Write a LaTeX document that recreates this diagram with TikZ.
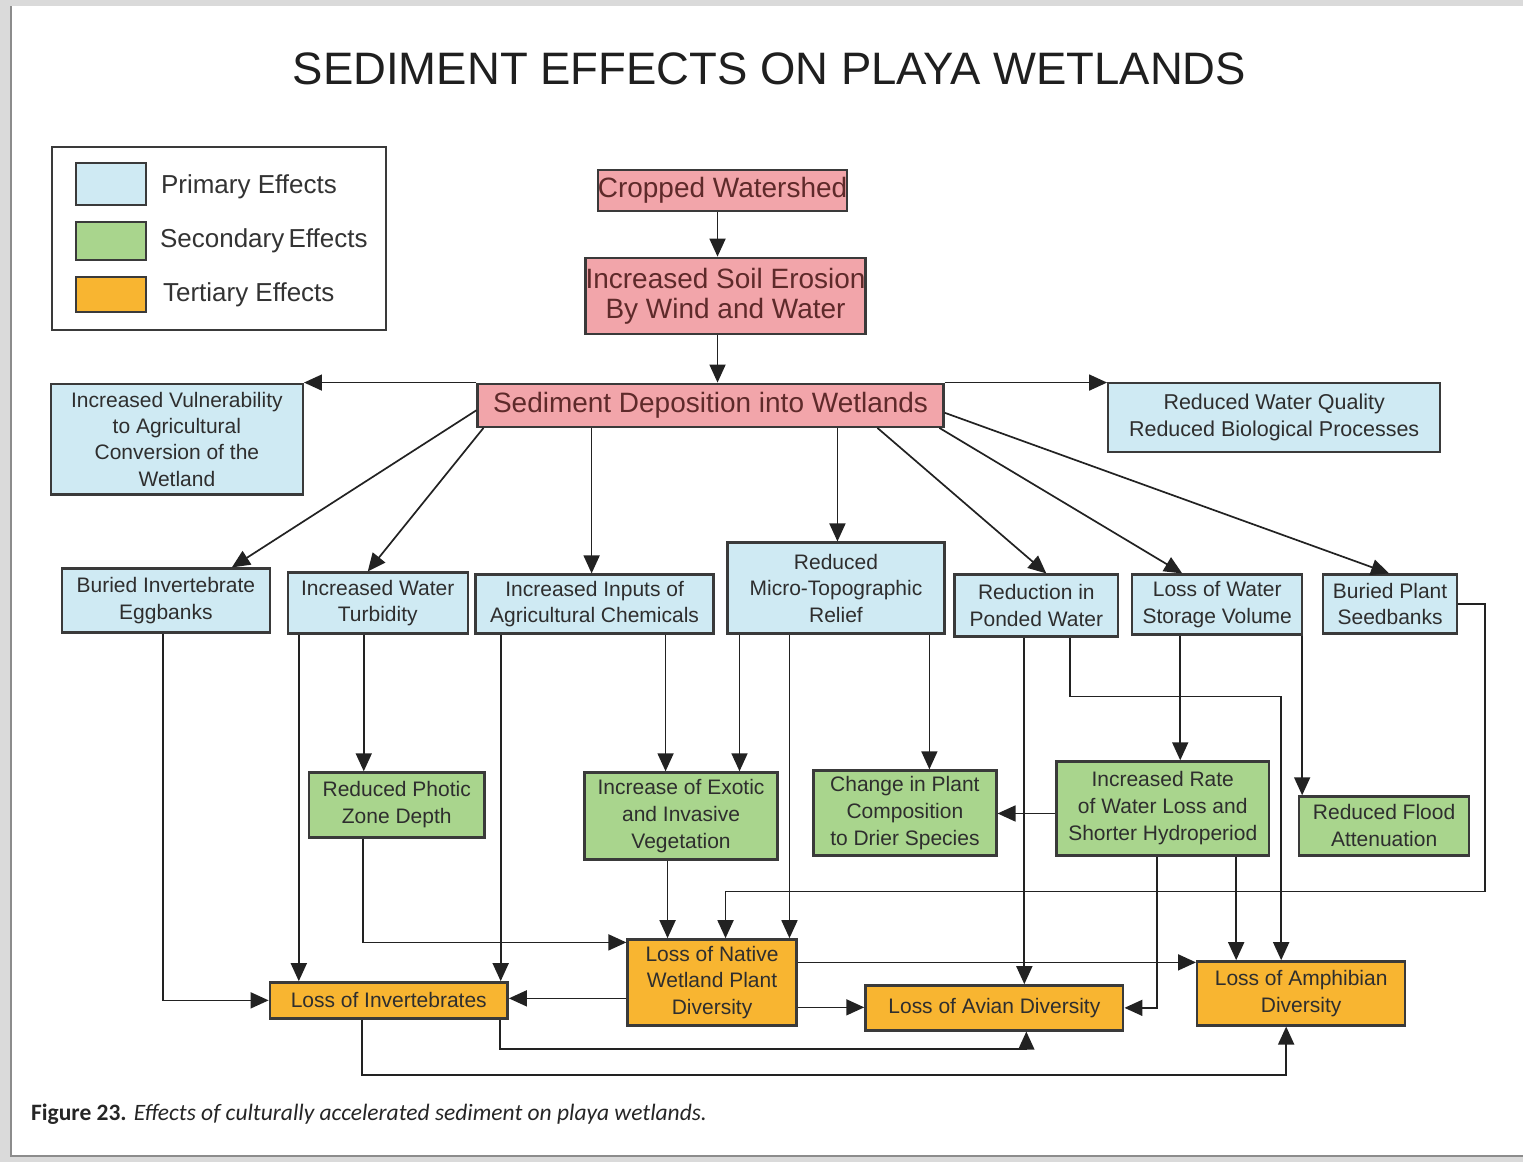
\documentclass[tikz,border=0pt]{standalone}
\usepackage{fontspec}
\setmainfont{Liberation Sans}
\newfontfamily\capfont{Carlito}
\usetikzlibrary{arrows.meta}
\definecolor{pinkfill}{HTML}{F2A5AA}
\definecolor{bluefill}{HTML}{CFEAF3}
\definecolor{greenfill}{HTML}{A9D58D}
\definecolor{orangefill}{HTML}{F8B531}
\definecolor{boxline}{HTML}{3A3A3A}
\definecolor{pinktext}{HTML}{5E2A2A}
\definecolor{linecol}{HTML}{222222}
\definecolor{bgcol}{HTML}{DADADA}
\begin{document}
\begin{tikzpicture}[x=1pt,y=-1pt,
  box/.style={draw=boxline, line width=2.4pt, inner sep=0pt, align=center, text=black!82},
  pbox/.style={box, fill=pinkfill, text=pinktext, font=\fontsize{28}{30}\selectfont},
  bbox/.style={box, fill=bluefill, font=\fontsize{21}{26.5}\selectfont},
  gbox/.style={box, fill=greenfill, font=\fontsize{21}{27}\selectfont},
  obox/.style={box, fill=orangefill, font=\fontsize{21}{26.5}\selectfont},
  arr/.style={draw=linecol, line width=1.7pt, -{Triangle[length=18pt,width=16pt]}},
  legtext/.style={anchor=west, inner sep=0pt, text=black!80, font=\fontsize{26}{28}\selectfont}
]
% background and page
\fill[bgcol] (0,0) rectangle (1524,1163);
\fill[white] (11,6) rectangle (1524,1157);
\draw[black!45, line width=2pt] (11,6) -- (11,1157) -- (1524,1157);
\useasboundingbox (0,0) rectangle (1524,1163);

% title
\node[inner sep=0pt, text=black!88, font=\fontsize{45.5}{48}\selectfont] (title) at (770,69) {SEDIMENT EFFECTS ON PLAYA WETLANDS};

% legend
\node[draw=boxline, line width=2pt, minimum width=334, minimum height=183, inner sep=0pt] (legend) at (219,238.5) {};
\node[box, fill=bluefill, minimum width=70, minimum height=42] (lg1) at (111,184) {};
\node[box, fill=greenfill, minimum width=70, minimum height=38] (lg2) at (111,241) {};
\node[box, fill=orangefill, minimum width=70, minimum height=35] (lg3) at (111,294.5) {};
\node[legtext] (lt1) at (161,187) {Primary Effects};
\node[legtext] (lt2) at (160,241) {Secondary\hspace{-3pt} Effects};
\node[legtext] (lt3) at (163,295) {Tertiary Effects};

% top chain
\node[pbox, minimum width=248, minimum height=41] (crop) at (723,190.5) {Cropped Watershed};
\node[pbox, minimum width=276, minimum height=76] (soil) at (726,296) {Increased Soil Erosion\\By Wind and Water};
\node[pbox, minimum width=466, minimum height=43] (sed) at (711,405.5) {Sediment Deposition into Wetlands};

\node[bbox, minimum width=252, minimum height=111] (vuln) at (177,439.5) {Increased Vulnerability\\to Agricultural\\Conversion of the\\Wetland};
\node[bbox, minimum width=332, minimum height=69, font=\fontsize{21.5}{27}\selectfont] (wq) at (1275,417.5) {Reduced Water Quality\\Reduced Biological Processes};

% primary row
\node[bbox, minimum width=208, minimum height=64] (egg) at (166,601) {Buried Invertebrate\\Eggbanks};
\node[bbox, minimum width=180, minimum height=61] (turb) at (378,603.5) {Increased Water\\Turbidity};
\node[bbox, minimum width=238, minimum height=59] (chem) at (595,604.5) {Increased Inputs of\\Agricultural Chemicals};
\node[bbox, minimum width=217, minimum height=91] (micro) at (836.5,588.5) {Reduced\\Micro-Topographic\\Relief};
\node[bbox, minimum width=164, minimum height=62] (pond) at (1037,606) {Reduction in\\Ponded Water};
\node[bbox, minimum width=170, minimum height=60] (stor) at (1218,605) {Loss of Water\\Storage Volume};
\node[bbox, minimum width=134, minimum height=59] (seed) at (1391,604.5) {Buried Plant\\Seedbanks};

% secondary row
\node[gbox, minimum width=176, minimum height=65] (photic) at (397,805.5) {Reduced Photic\\Zone Depth};
\node[gbox, minimum width=193, minimum height=87] (exotic) at (681.5,816.5) {Increase of Exotic\\and Invasive\\Vegetation};
\node[gbox, minimum width=183, minimum height=85] (change) at (905.5,813.5) {Change in Plant\\Composition\\to Drier Species};
\node[gbox, minimum width=213, minimum height=94] (rate) at (1163.5,809) {Increased Rate\\of Water Loss and\\Shorter Hydroperiod};
\node[gbox, minimum width=170, minimum height=59] (flood) at (1385,826.5) {Reduced Flood\\Attenuation};

% tertiary row
\node[obox, minimum width=238, minimum height=36] (linv) at (389,1001) {Loss of Invertebrates};
\node[obox, minimum width=169, minimum height=86] (lnat) at (712.5,983) {Loss of Native\\Wetland Plant\\Diversity};
\node[obox, minimum width=258, minimum height=45] (lavi) at (995,1008.5) {Loss of Avian Diversity};
\node[obox, minimum width=208, minimum height=64] (lamp) at (1302,994) {Loss of Amphibian\\Diversity};

% caption
\node[anchor=west, inner sep=0pt, text=black!85, font=\capfont\fontsize{23.5}{26}\selectfont] (cap) at (31,1115) {\textbf{Figure 23.} \textit{Effects of culturally accelerated sediment on playa wetlands.}};

% connectors: top chain
\draw[arr] (crop.south -| 718,0) -- (soil.north -| 718,0);
\draw[arr] (soil.south -| 718,0) -- (sed.north -| 718,0);
\draw[arr] (sed.north west) -- (vuln.north east);
\draw[arr] (sed.north east) -- (wq.north west |- sed.north east);

% sediment fan
\draw[arr] ([yshift=-5pt]sed.west) -- (egg.north -| 232,0);
\draw[arr] ([xshift=7pt]sed.south west) -- (turb.north -| 368,0);
\draw[arr] (sed.south -| 592,0) -- (chem.north -| 592,0);
\draw[arr] (sed.south -| 838,0) -- (micro.north -| 838,0);
\draw[arr] (sed.south -| 878,0) -- (pond.north -| 1047,0);
\draw[arr] (sed.south -| 940,0) -- (stor.north -| 1183,0);
\draw[arr] (sed.east |- 0,413) -- (seed.north -| 1390,0);

% primary to lower
\draw[arr] (turb.south -| 364,0) -- (photic.north -| 364,0);
\draw[arr] (turb.south -| 299,0) -- (linv.north -| 299,0);
\draw[arr] (egg.south -| 163,0) |- (linv.west);
\draw[arr] (chem.south -| 501,0) -- (linv.north -| 501,0);
\draw[arr] (chem.south -| 666,0) -- (exotic.north -| 666,0);
\draw[arr] (micro.south -| 740,0) -- (exotic.north -| 740,0);
\draw[arr] (micro.south -| 790,0) -- (lnat.north -| 790,0);
\draw[arr] (micro.south -| 930,0) -- (change.north -| 930,0);
\draw[arr] (pond.south -| 1025,0) -- (lavi.north -| 1025,0);
\draw[arr] (pond.south -| 1071,0) |- (1282,697) -- (lamp.north -| 1282,0);
\draw[arr] (stor.south -| 1181,0) -- (rate.north -| 1181,0);
\draw[arr] (stor.south -| 1303,0) -- (flood.north -| 1303,0);
\draw[arr] (seed.east) -| (1486,892) -| (lnat.north -| 726,0);

% secondary to tertiary
\draw[arr] (photic.south -| 363,0) |- (lnat.west |- 0,943);
\draw[arr] (exotic.south -| 668,0) -- (lnat.north -| 668,0);
\draw[arr] (rate.west |- 0,814) -- (change.east |- 0,814);
\draw[arr] (rate.south -| 1158,0) |- (lavi.east);
\draw[arr] (rate.south -| 1237,0) -- (lamp.north -| 1237,0);

% tertiary links
\draw[arr] (lnat.west |- 0,999) -- (linv.east |- 0,999);
\draw[arr] (lnat.east |- 0,1008) -- (lavi.west |- 0,1008);
\draw[arr] (lnat.east |- 0,963) -- (lamp.west |- 0,963);
\draw[arr] (linv.south -| 500,0) |- (1027,1050) -- (lavi.south -| 1027,0);
\draw[arr] (linv.south -| 362,0) |- (1287,1076) -- (lamp.south -| 1287,0);
\end{tikzpicture}
\end{document}
